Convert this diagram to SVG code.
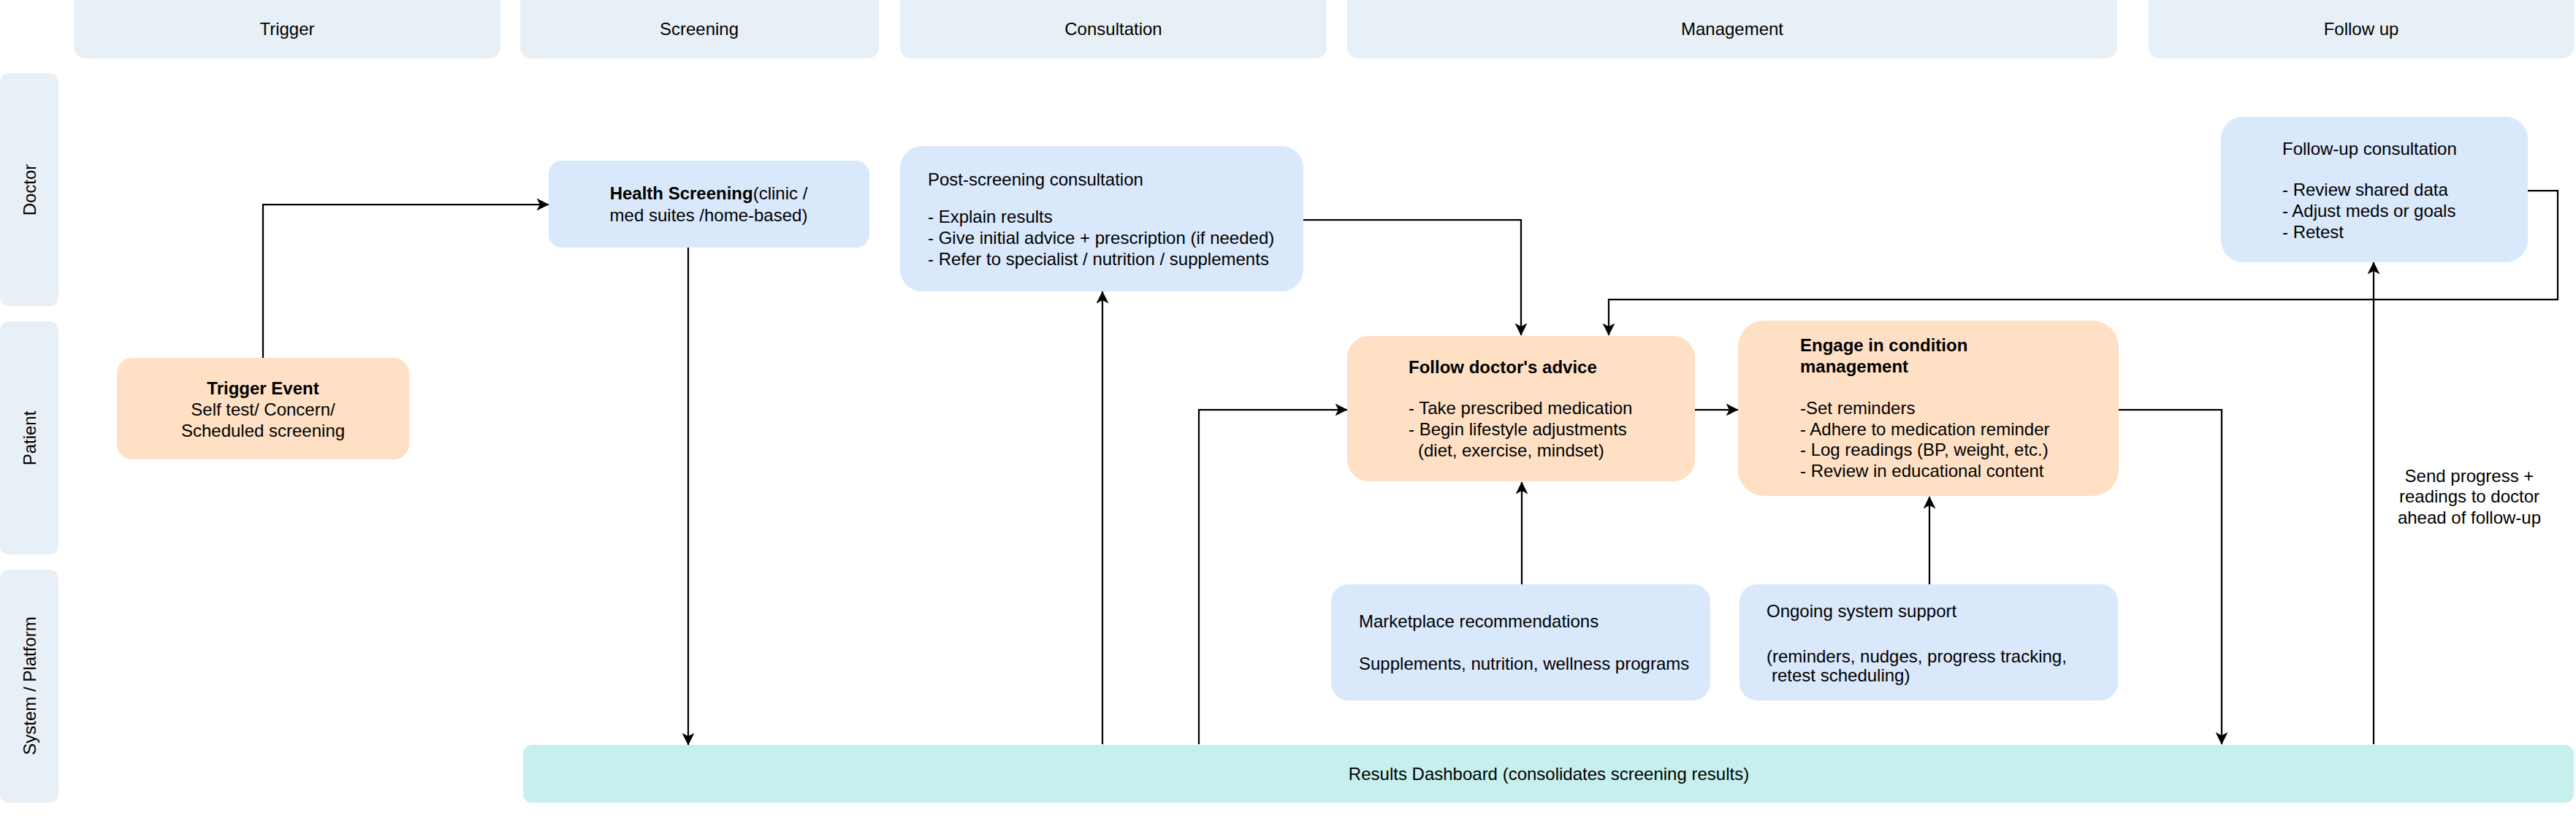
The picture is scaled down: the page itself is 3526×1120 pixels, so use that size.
<svg xmlns="http://www.w3.org/2000/svg" width="3526" height="1120" viewBox="0 0 3526 1120">
<defs>
<style>
text{font-family:"Liberation Sans",Arial,sans-serif;font-size:24px;fill:#000}
.hdr{fill:#E8F0F7}
.doc{fill:#DAE8FC}
.pat{fill:#FFE0C4}
.dash{fill:#C6EFED}
.c{text-anchor:middle}
.b{font-weight:bold}
.edge{fill:none;stroke:#000;stroke-width:2.25;marker-end:url(#arr)}
</style>
<marker id="arr" markerUnits="userSpaceOnUse" markerWidth="17" markerHeight="17" viewBox="0 0 17 17" refX="16.5" refY="8.5" orient="auto">
<path d="M0,0 L17,8.5 L0,17 L4.5,8.5 Z" fill="#000"/>
</marker>
</defs>
<rect width="3526" height="1120" fill="#fff"/>
<g id="headers">
<rect class="hdr" x="101" y="-20" width="584" height="100" rx="15"/>
<text class="c" x="393" y="48">Trigger</text>
<rect class="hdr" x="712" y="-20" width="491" height="100" rx="15"/>
<text class="c" x="957" y="48">Screening</text>
<rect class="hdr" x="1232" y="-20" width="584" height="100" rx="15"/>
<text class="c" x="1524" y="48">Consultation</text>
<rect class="hdr" x="1844" y="-20" width="1054" height="100" rx="15"/>
<text class="c" x="2371" y="48">Management</text>
<rect class="hdr" x="2941" y="-20" width="582" height="100" rx="15"/>
<text class="c" x="3232" y="48">Follow up</text>
</g>
<g id="lanes">
<rect class="hdr" x="0" y="100" width="80" height="319" rx="12"/>
<text class="c" transform="translate(40,260) rotate(-90)" y="9">Doctor</text>
<rect class="hdr" x="0" y="440" width="80" height="319" rx="12"/>
<text class="c" transform="translate(40,600) rotate(-90)" y="9">Patient</text>
<rect class="hdr" x="0" y="780" width="80" height="319" rx="12"/>
<text class="c" transform="translate(40,939) rotate(-90)" y="9">System / Platform</text>
</g>
<g id="connectors">
<path class="edge" d="M360,490 V280 H751"/>
<path class="edge" d="M942,339 V1020"/>
<path class="edge" d="M1509,1019 V399"/>
<path class="edge" d="M1784,301 H2082 V459"/>
<path class="edge" d="M1641,1019 V561 H1844"/>
<path class="edge" d="M2083,800 V660"/>
<path class="edge" d="M2320,561 H2379"/>
<path class="edge" d="M2641,800 V680"/>
<path class="edge" d="M2900,561 H3041 V1019"/>
<path class="edge" d="M3249,1019 V359"/>
<path class="edge" d="M3460,261 H3501 V410 H2202 V459"/>
<text class="c" x="3380" y="660">Send progress +</text>
<text class="c" x="3380" y="688">readings to doctor</text>
<text class="c" x="3380" y="717">ahead of follow-up</text>
</g>
<g id="trigger-event">
<rect class="pat" x="160" y="490" width="400" height="139" rx="21"/>
<text class="c b" x="360" y="540">Trigger Event</text>
<text class="c" x="360" y="569">Self test/ Concern/</text>
<text class="c" x="360" y="598">Scheduled screening</text>
</g>
<g id="health-screening">
<rect class="doc" x="751" y="220" width="439" height="119" rx="18"/>
<text class="c" x="970" y="273"><tspan class="b">Health Screening</tspan>(clinic /</text>
<text class="c" x="970" y="303">med suites /home-based)</text>
</g>
<g id="post-screening">
<rect class="doc" x="1232" y="200" width="552" height="199" rx="30"/>
<text x="1270" y="254">Post-screening consultation</text>
<text x="1270" y="305">- Explain results</text>
<text x="1270" y="334">- Give initial advice + prescription (if needed)</text>
<text x="1270" y="363">- Refer to specialist / nutrition / supplements</text>
</g>
<g id="follow-advice">
<rect class="pat" x="1844" y="460" width="476" height="199" rx="30"/>
<text class="b" x="1928" y="511">Follow doctor's advice</text>
<text x="1928" y="567">- Take prescribed medication</text>
<text x="1928" y="596">- Begin lifestyle adjustments</text>
<text x="1941" y="625">(diet, exercise, mindset)</text>
</g>
<g id="engage">
<rect class="pat" x="2379" y="439" width="521" height="240" rx="36"/>
<text class="b" x="2464" y="481">Engage in condition</text>
<text class="b" x="2464" y="510">management</text>
<text x="2464" y="567">-Set reminders</text>
<text x="2464" y="596">- Adhere to medication reminder</text>
<text x="2464" y="624">- Log readings (BP, weight, etc.)</text>
<text x="2464" y="653">- Review in educational content</text>
</g>
<g id="follow-up-consultation">
<rect class="doc" x="3040" y="160" width="420" height="199" rx="30"/>
<text x="3124" y="212">Follow-up consultation</text>
<text x="3124" y="268">- Review shared data</text>
<text x="3124" y="297">- Adjust meds or goals</text>
<text x="3124" y="326">- Retest</text>
</g>
<g id="marketplace">
<rect class="doc" x="1822" y="800" width="519" height="159" rx="24"/>
<text x="1860" y="859">Marketplace recommendations</text>
<text x="1860" y="917">Supplements, nutrition, wellness programs</text>
</g>
<g id="ongoing-support">
<rect class="doc" x="2381" y="800" width="518" height="159" rx="24"/>
<text x="2418" y="845">Ongoing system support</text>
<text x="2418" y="907">(reminders, nudges, progress tracking,</text>
<text x="2425" y="933">retest scheduling)</text>
</g>
<g id="results-dashboard">
<rect class="dash" x="716" y="1020" width="2807" height="79" rx="12"/>
<text class="c" x="2120" y="1068">Results Dashboard (consolidates screening results)</text>
</g>
</svg>
